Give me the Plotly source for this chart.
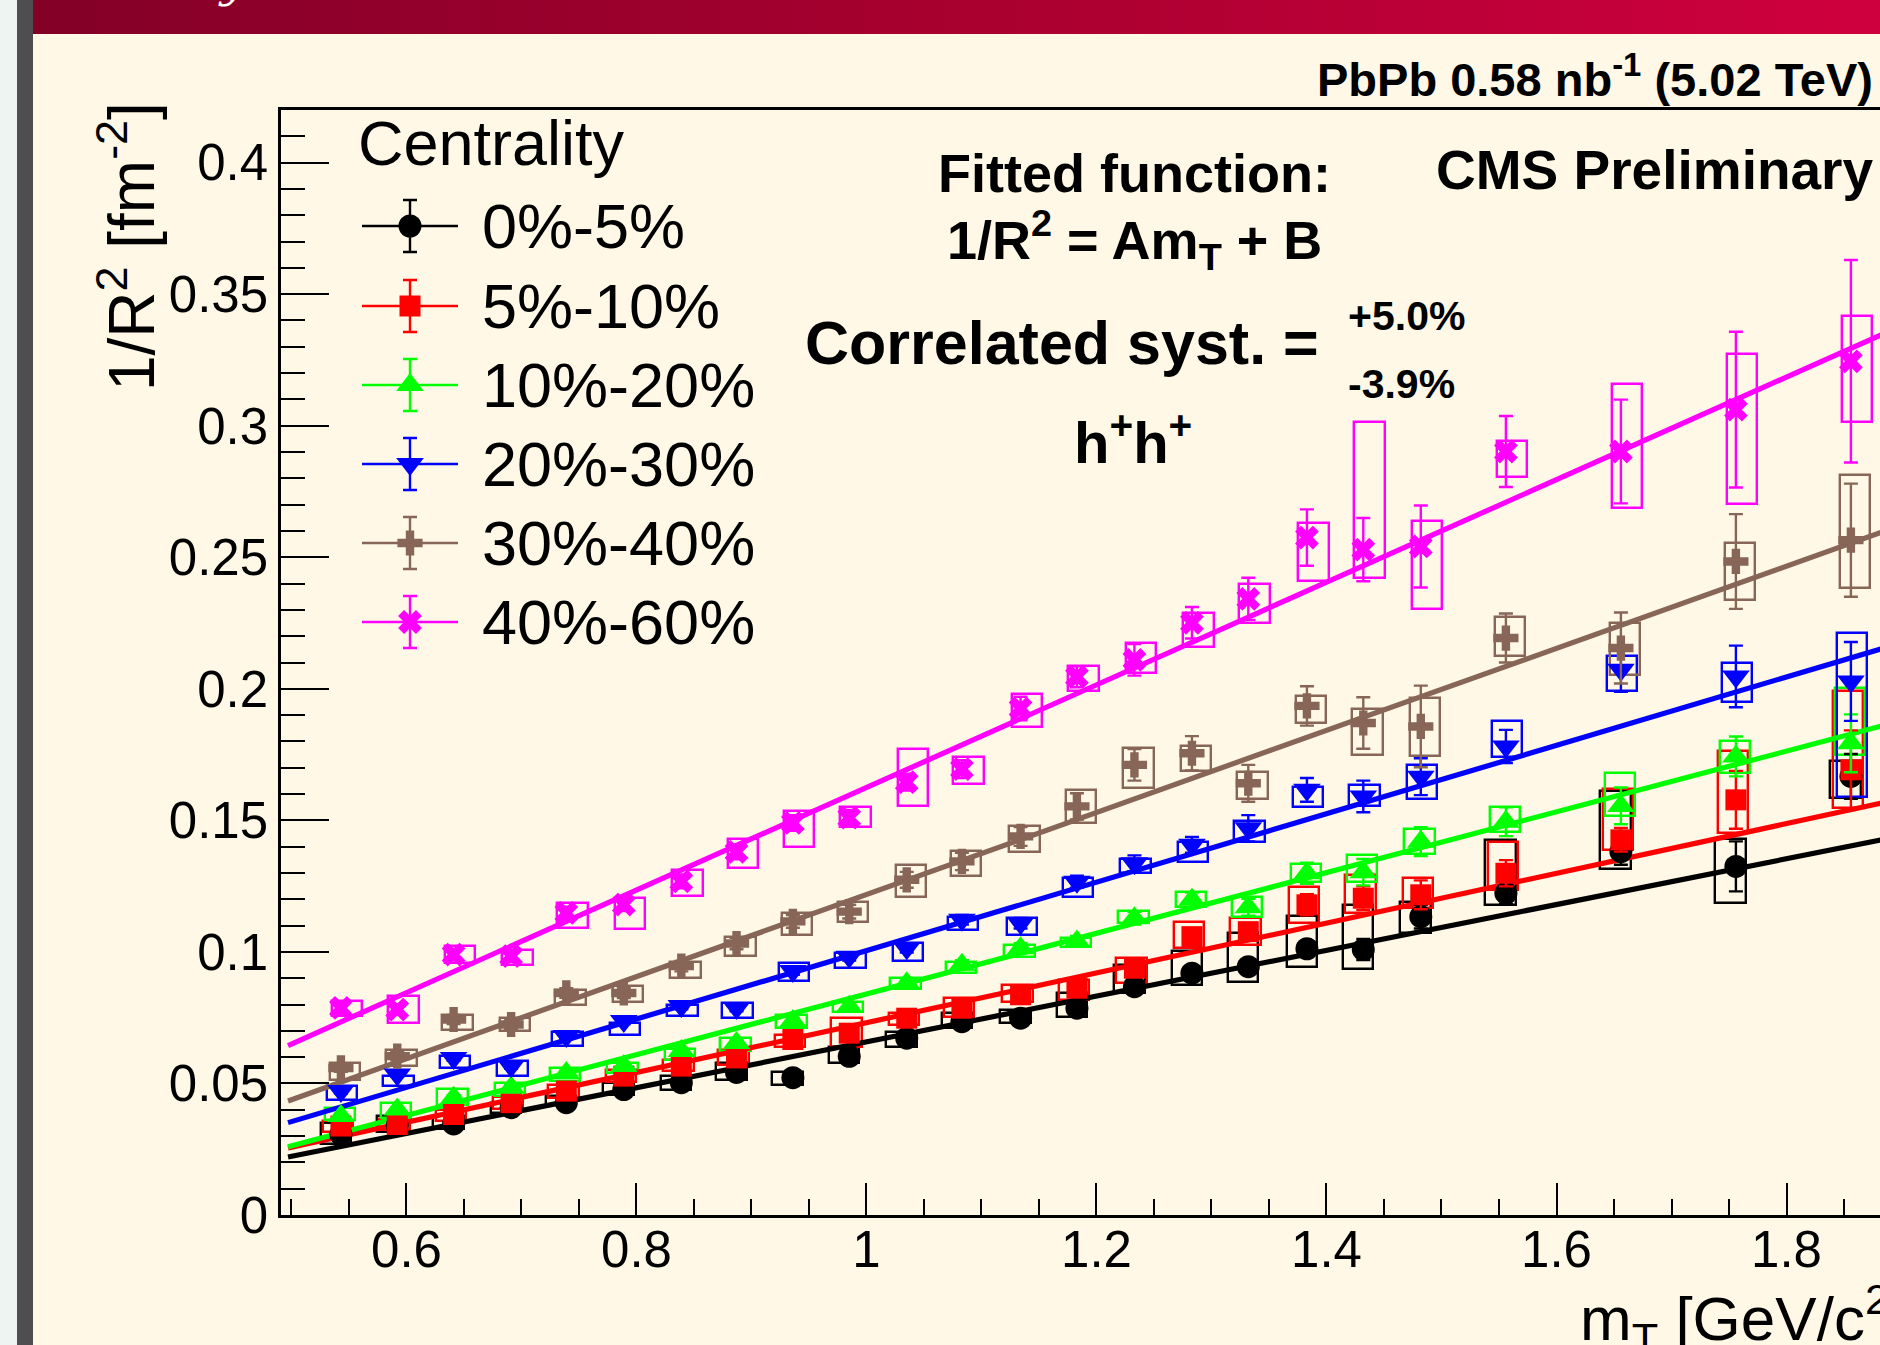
import plotly.graph_objects as go

W, H = 1880, 1345

# ---------------- data ----------------
MT = [0.543, 0.592, 0.641, 0.691, 0.739, 0.789, 0.839, 0.887, 0.936, 0.985,
      1.035, 1.083, 1.134, 1.183, 1.233, 1.283, 1.332, 1.383, 1.432, 1.482,
      1.556, 1.656, 1.756, 1.856]

CENTRALITY = ["0%-5%", "5%-10%", "10%-20%", "20%-30%", "30%-40%", "40%-60%"]

R2_C0 = [0.0306, 0.0340, 0.0346, 0.0408, 0.0427, 0.0477, 0.0503, 0.0542, 0.0522, 0.0603,
         0.0672, 0.0735, 0.0748, 0.0786, 0.0868, 0.0919, 0.0944, 0.1012, 0.1009, 0.1134,
         0.1223, 0.1381, 0.1325, 0.1667]
STAT_C0 = [0.0008, 0.0008, 0.0008, 0.0008, 0.0008, 0.0009, 0.0009, 0.0010, 0.0010, 0.0011,
           0.0012, 0.0013, 0.0015, 0.0017, 0.0019, 0.0022, 0.0026, 0.0030, 0.0040, 0.0045,
           0.0040, 0.0050, 0.0095, 0.0085]
SYS_LO_C0 = [0.0268, 0.0315, 0.0325, 0.0389, 0.0420, 0.0458, 0.0477, 0.0515, 0.0496, 0.0577,
             0.0640, 0.0710, 0.0729, 0.0754, 0.0843, 0.0875, 0.0887, 0.0944, 0.0934, 0.1071,
             0.1179, 0.1315, 0.1185, 0.1584]
SYS_HI_C0 = [0.0351, 0.0376, 0.0376, 0.0427, 0.0452, 0.0503, 0.0528, 0.0578, 0.0543, 0.0640,
             0.0697, 0.0767, 0.0780, 0.0843, 0.0951, 0.1005, 0.1071, 0.1137, 0.1179, 0.1191,
             0.1426, 0.1610, 0.1430, 0.1724]

R2_C1 = [0.0338, 0.0344, 0.0382, 0.0427, 0.0471, 0.0528, 0.0566, 0.0597, 0.0667, 0.0691,
         0.0748, 0.0786, 0.0837, 0.0862, 0.0938, 0.1058, 0.1077, 0.1179, 0.1204, 0.1217,
         0.1299, 0.1426, 0.1578, 0.1692]
STAT_C1 = [0.0008, 0.0008, 0.0008, 0.0009, 0.0009, 0.0010, 0.0010, 0.0011, 0.0012, 0.0013,
           0.0014, 0.0016, 0.0018, 0.0020, 0.0022, 0.0026, 0.0030, 0.0040, 0.0045, 0.0055,
           0.0050, 0.0045, 0.0110, 0.0150]
SYS_LO_C1 = [0.0315, 0.0323, 0.0357, 0.0404, 0.0446, 0.0505, 0.0547, 0.0572, 0.0639, 0.0640,
             0.0723, 0.0754, 0.0811, 0.0817, 0.0881, 0.1014, 0.1027, 0.1109, 0.1147, 0.1166,
             0.1236, 0.1388, 0.1451, 0.1546]
SYS_HI_C1 = [0.0357, 0.0366, 0.0401, 0.0449, 0.0496, 0.0551, 0.0589, 0.0629, 0.0686, 0.0748,
             0.0767, 0.0824, 0.0875, 0.0894, 0.0976, 0.1112, 0.1128, 0.1248, 0.1293, 0.1280,
             0.1419, 0.1619, 0.1765, 0.1990]

R2_C2 = [0.0376, 0.0401, 0.0446, 0.0484, 0.0540, 0.0566, 0.0623, 0.0654, 0.0737, 0.0792,
         0.0881, 0.0951, 0.1014, 0.1040, 0.1128, 0.1198, 0.1170, 0.1299, 0.1303, 0.1419,
         0.1495, 0.1555, 0.1743, 0.1793]
STAT_C2 = [0.0008, 0.0008, 0.0009, 0.0009, 0.0010, 0.0010, 0.0011, 0.0012, 0.0013, 0.0014,
           0.0015, 0.0017, 0.0019, 0.0021, 0.0024, 0.0028, 0.0032, 0.0040, 0.0050, 0.0055,
           0.0055, 0.0070, 0.0076, 0.0110]
SYS_LO_C2 = [0.0363, 0.0370, 0.0420, 0.0452, 0.0509, 0.0538, 0.0591, 0.0623, 0.0711, 0.0773,
             0.0858, 0.0919, 0.0982, 0.1020, 0.1111, 0.1172, 0.1134, 0.1264, 0.1267, 0.1372,
             0.1454, 0.1517, 0.1679, 0.1749]
SYS_HI_C2 = [0.0408, 0.0424, 0.0480, 0.0503, 0.0559, 0.0578, 0.0632, 0.0674, 0.0762, 0.0811,
             0.0900, 0.0963, 0.1027, 0.1052, 0.1157, 0.1226, 0.1208, 0.1335, 0.1369, 0.1466,
             0.1550, 0.1680, 0.1803, 0.2003]

R2_C3 = [0.0471, 0.0534, 0.0597, 0.0566, 0.0680, 0.0737, 0.0794, 0.0787, 0.0927, 0.0982,
         0.1014, 0.1122, 0.1109, 0.1267, 0.1337, 0.1407, 0.1470, 0.1616, 0.1591, 0.1666,
         0.1781, 0.2072, 0.2047, 0.2028]
STAT_C3 = [0.0009, 0.0009, 0.0010, 0.0010, 0.0011, 0.0011, 0.0012, 0.0013, 0.0014, 0.0015,
           0.0016, 0.0018, 0.0020, 0.0023, 0.0030, 0.0030, 0.0050, 0.0045, 0.0060, 0.0070,
           0.0063, 0.0083, 0.0117, 0.0150]
SYS_LO_C3 = [0.0437, 0.0490, 0.0559, 0.0530, 0.0642, 0.0686, 0.0758, 0.0749, 0.0889, 0.0938,
             0.0967, 0.1083, 0.1065, 0.1210, 0.1299, 0.1340, 0.1419, 0.1552, 0.1555, 0.1581,
             0.1740, 0.1990, 0.1948, 0.1588]
SYS_HI_C3 = [0.0490, 0.0530, 0.0606, 0.0585, 0.0695, 0.0730, 0.0800, 0.0806, 0.0958, 0.0995,
             0.1035, 0.1134, 0.1128, 0.1280, 0.1352, 0.1419, 0.1496, 0.1626, 0.1635, 0.1711,
             0.1876, 0.2126, 0.2100, 0.2214]

R2_C4 = [0.0559, 0.0604, 0.0743, 0.0724, 0.0844, 0.0844, 0.0946, 0.1032, 0.1116, 0.1153,
         0.1274, 0.1344, 0.1439, 0.1553, 0.1711, 0.1755, 0.1641, 0.1935, 0.1870, 0.1857,
         0.2193, 0.2155, 0.2484, 0.2565]
STAT_C4 = [0.0015, 0.0016, 0.0017, 0.0017, 0.0018, 0.0019, 0.0020, 0.0022, 0.0024, 0.0026,
           0.0030, 0.0033, 0.0036, 0.0050, 0.0060, 0.0065, 0.0070, 0.0075, 0.0098, 0.0155,
           0.0093, 0.0135, 0.0180, 0.0215]
SYS_LO_C4 = [0.0515, 0.0566, 0.0705, 0.0699, 0.0800, 0.0810, 0.0901, 0.0984, 0.1066, 0.1115,
             0.1210, 0.1289, 0.1381, 0.1489, 0.1622, 0.1689, 0.1580, 0.1869, 0.1749, 0.1743,
             0.2123, 0.2053, 0.2338, 0.2383]
SYS_HI_C4 = [0.0578, 0.0629, 0.0762, 0.0749, 0.0857, 0.0870, 0.0961, 0.1057, 0.1148, 0.1191,
             0.1331, 0.1382, 0.1477, 0.1616, 0.1774, 0.1783, 0.1682, 0.1971, 0.1923, 0.1965,
             0.2272, 0.2250, 0.2554, 0.2814]

R2_C5 = [0.0787, 0.0781, 0.0990, 0.0984, 0.1148, 0.1180, 0.1268, 0.1380, 0.1490, 0.1510,
         0.1645, 0.1695, 0.1925, 0.2046, 0.2110, 0.2251, 0.2342, 0.2575, 0.2529, 0.2541,
         0.2902, 0.2902, 0.3061, 0.3245]
STAT_C5 = [0.0020, 0.0020, 0.0022, 0.0022, 0.0024, 0.0025, 0.0026, 0.0028, 0.0030, 0.0030,
           0.0032, 0.0034, 0.0045, 0.0040, 0.0060, 0.0060, 0.0080, 0.0107, 0.0120, 0.0156,
           0.0135, 0.0197, 0.0296, 0.0385]
SYS_LO_C5 = [0.0756, 0.0730, 0.0958, 0.0952, 0.1091, 0.1087, 0.1211, 0.1320, 0.1400, 0.1475,
             0.1555, 0.1639, 0.1854, 0.1990, 0.2060, 0.2160, 0.2250, 0.2410, 0.2421, 0.2304,
             0.2805, 0.2687, 0.2703, 0.3016]
SYS_HI_C5 = [0.0813, 0.0832, 0.1024, 0.1006, 0.1186, 0.1205, 0.1310, 0.1430, 0.1535, 0.1550,
             0.1771, 0.1742, 0.1980, 0.2087, 0.2174, 0.2288, 0.2400, 0.2630, 0.3014, 0.2636,
             0.2941, 0.3158, 0.3274, 0.3418]

# linear fits 1/R^2 = A*mT + B
FIT_A = [0.0870, 0.0946, 0.1154, 0.1300, 0.1560, 0.1950]
FIT_B = [-0.0212, -0.0215, -0.0314, -0.0295, -0.0342, -0.0325]
FIT_RANGE = [0.497, 1.95]

X_TICKS = [0.6, 0.8, 1.0, 1.2, 1.4, 1.6, 1.8]
X_TICK_TEXT = ["0.6", "0.8", "1", "1.2", "1.4", "1.6", "1.8"]
Y_TICKS = [0, 0.05, 0.1, 0.15, 0.2, 0.25, 0.3, 0.35, 0.4]
Y_TICK_TEXT = ["0", "0.05", "0.1", "0.15", "0.2", "0.25", "0.3", "0.35", "0.4"]

VALUES = [R2_C0, R2_C1, R2_C2, R2_C3, R2_C4, R2_C5]
STATS = [STAT_C0, STAT_C1, STAT_C2, STAT_C3, STAT_C4, STAT_C5]
SYS_LO = [SYS_LO_C0, SYS_LO_C1, SYS_LO_C2, SYS_LO_C3, SYS_LO_C4, SYS_LO_C5]
SYS_HI = [SYS_HI_C0, SYS_HI_C1, SYS_HI_C2, SYS_HI_C3, SYS_HI_C4, SYS_HI_C5]

# ---------------- style ----------------
FONT = "Liberation Sans, Arial, Helvetica, sans-serif"
CREAM = "#FFF8E6"
COLORS = ["#000000", "#FF0000", "#00FF00", "#0000FF", "#876657", "#FF00FF"]
SYMBOLS = ["circle", "square", "triangle-up", "triangle-down", "cross", "x"]
MSIZE = [23, 21, 24, 24, 21, 21]
BOX_OFFSET = [-0.0045, -0.0025, -0.001, 0.001, 0.0035, 0.0055]
BOX_W = 0.0265

X_RANGE = [0.4909, 1.8813]
Y_RANGE = [0, 0.42]
AX_LEFT, AX_BOTTOM, AX_TOP = 281, 1215, 110

LEG_Y = [226, 306, 385, 464, 543, 622]
LEG_LINE = [362, 458]
LEG_MARK_X = 410
LEG_TEXT_X = 480


def P(x, y):
    return x / W, 1 - y / H


fig = go.Figure()

# systematic boxes
for i in range(6):
    fig.add_trace(go.Bar(
        x=[m + BOX_OFFSET[i] for m in MT],
        base=SYS_LO[i],
        y=[h - l for h, l in zip(SYS_HI[i], SYS_LO[i])],
        width=BOX_W,
        marker=dict(color="rgba(0,0,0,0)", line=dict(color=COLORS[i], width=2.4)),
        hoverinfo="skip", showlegend=False))

# fit lines
for i in range(6):
    fig.add_trace(go.Scatter(
        x=FIT_RANGE, y=[FIT_A[i] * x + FIT_B[i] for x in FIT_RANGE],
        mode="lines", line=dict(color=COLORS[i], width=5.2),
        hoverinfo="skip", showlegend=False))

# data points with statistical errors
for i in range(6):
    fig.add_trace(go.Scatter(
        x=MT, y=VALUES[i], mode="markers",
        marker=dict(symbol=SYMBOLS[i], size=MSIZE[i], color=COLORS[i]),
        error_y=dict(type="data", array=STATS[i], visible=True, color=COLORS[i],
                     thickness=2.4, width=7),
        name=CENTRALITY[i], showlegend=False))

# ---- overlay pixel axes: header band + hand-made legend ----
fig.add_trace(go.Scatter(
    x=[33, W, W, 33, 33], y=[0, 0, 34, 34, 0], mode="lines", fill="toself",
    fillgradient=dict(type="horizontal", colorscale=[[0, "#830027"], [0.5, "#A8002F"], [1, "#CF003E"]]),
    line=dict(width=0), xaxis="x2", yaxis="y2", hoverinfo="skip", showlegend=False))

for i in range(6):
    fig.add_trace(go.Scatter(
        x=LEG_LINE, y=[LEG_Y[i], LEG_Y[i]], mode="lines",
        line=dict(color=COLORS[i], width=2.6),
        xaxis="x2", yaxis="y2", hoverinfo="skip", showlegend=False))
    fig.add_trace(go.Scatter(
        x=[LEG_MARK_X], y=[LEG_Y[i]], mode="markers",
        marker=dict(symbol=SYMBOLS[i], size=MSIZE[i], color=COLORS[i]),
        error_y=dict(type="constant", value=26, color=COLORS[i], thickness=2.4, width=7),
        xaxis="x2", yaxis="y2", hoverinfo="skip", showlegend=False))

annotations = []


def add_text(text, x, y, size, xanchor="center", yanchor="middle", color="black", angle=0, family=FONT):
    px_, py_ = P(x, y)
    annotations.append(dict(
        text=text, x=px_, y=py_, xref="paper", yref="paper", showarrow=False,
        xanchor=xanchor, yanchor=yanchor, textangle=angle,
        font=dict(family=family, size=size, color=color)))


add_text("Centrality", 356, 143, 63, xanchor="left")
for i in range(6):
    add_text(CENTRALITY[i], LEG_TEXT_X, LEG_Y[i], 63, xanchor="left")

add_text("<b>PbPb 0.58 nb<sup>-1</sup> (5.02 TeV)</b>", 1315, 76, 47, xanchor="left")
add_text("<b>CMS Preliminary</b>", 1434, 170, 55, xanchor="left")
add_text("<b>Fitted function:</b>", 1134, 173, 54)
add_text("<b>1/R<sup>2</sup> = Am<sub>T</sub> + B</b>", 1134, 240, 54)
add_text("<b>Correlated syst. =</b>", 1062, 343, 61)
add_text("<b>+5.0%</b>", 1346, 316, 41, xanchor="left")
add_text("<b>-3.9%</b>", 1346, 384, 41, xanchor="left")
add_text("<b>h<sup>+</sup>h<sup>+</sup></b>", 1133, 439, 58)

add_text("1/R<sup>2</sup> [fm<sup>-2</sup>]", 127, 247, 64, angle=-90)
add_text("m<sub>T</sub> [GeV/c<sup>2</sup>]", 1578, 1318, 62, xanchor="left")

add_text("<i>y</i>", 232, 9, 44, yanchor="bottom", color="white", family="DejaVu Serif")

shapes = [
    dict(type="rect", xref="paper", yref="paper", x0=0, x1=17 / W, y0=0, y1=1,
         fillcolor="#EDF4F1", line=dict(width=0), layer="above"),
    dict(type="rect", xref="paper", yref="paper", x0=17 / W, x1=33 / W, y0=0, y1=1,
         fillcolor="#4E4E50", line=dict(width=0), layer="above"),
]

fig.update_layout(
    width=W, height=H,
    margin=dict(l=0, r=0, t=0, b=0, pad=0, autoexpand=False),
    paper_bgcolor=CREAM, plot_bgcolor="rgba(0,0,0,0)",
    barmode="overlay", bargap=0,
    showlegend=False,
    annotations=annotations,
    shapes=shapes,
    xaxis=dict(
        domain=[AX_LEFT / W, 1], range=X_RANGE,
        showline=True, linecolor="black", linewidth=2.5, mirror=True,
        ticks="inside", ticklen=32, tickwidth=2, tickcolor="black",
        tickmode="array", tickvals=X_TICKS, ticktext=X_TICK_TEXT,
        tickfont=dict(family=FONT, size=51, color="black"),
        ticklabelstandoff=-12,
        minor=dict(ticks="inside", ticklen=16, tickwidth=2, tickcolor="black",
                   tick0=0, dtick=0.05, showgrid=False),
        showgrid=False, zeroline=False, anchor="y", automargin=False),
    yaxis=dict(
        domain=[1 - AX_BOTTOM / H, 1 - AX_TOP / H], range=Y_RANGE,
        showline=True, linecolor="black", linewidth=2.5, mirror=False,
        ticks="inside", ticklen=48, tickwidth=2, tickcolor="black",
        tickmode="array", tickvals=Y_TICKS, ticktext=Y_TICK_TEXT,
        tickfont=dict(family=FONT, size=51, color="black"),
        minor=dict(ticks="inside", ticklen=24, tickwidth=2, tickcolor="black",
                   tick0=0, dtick=0.01, showgrid=False),
        showgrid=False, zeroline=False, anchor="x", automargin=False),
    xaxis2=dict(domain=[0, 1], range=[0, W], visible=False, anchor="y2", fixedrange=True),
    yaxis2=dict(domain=[0, 1], range=[H, 0], visible=False, anchor="x2", fixedrange=True),
)

fig.write_html("out.html", config={"displayModeBar": False},
               post_script="document.body.style.margin='0px';document.body.style.overflow='hidden';")
